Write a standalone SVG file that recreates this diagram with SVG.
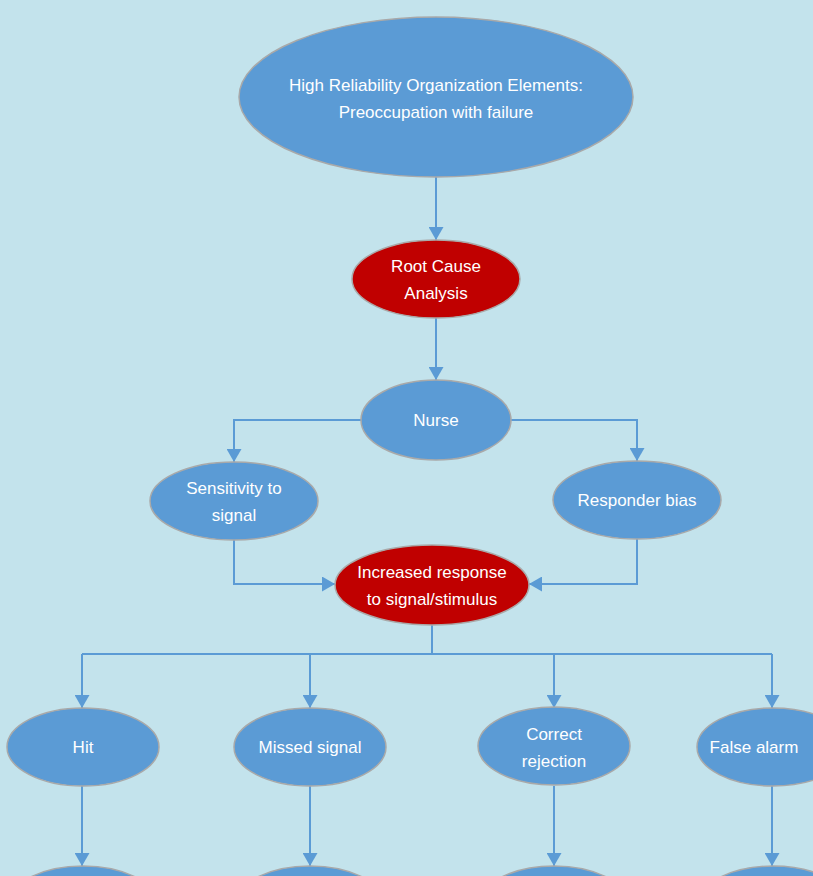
<svg xmlns="http://www.w3.org/2000/svg" width="813" height="876" viewBox="0 0 813 876">
<defs>
<marker id="ah" viewBox="0 0 13 15" refX="13" refY="7.5" markerWidth="13" markerHeight="15" markerUnits="userSpaceOnUse" orient="auto">
<path d="M0,0 L13,7.5 L0,15 Z" fill="#5B9BD5"/>
</marker>
<style>
.n{fill:#5B9BD5;stroke:#A9A9A9;stroke-width:1.5}
.r{fill:#C00000;stroke:#A9A9A9;stroke-width:1.5}
.t{font-family:"Liberation Sans",Arial,sans-serif;font-size:17px;fill:#FFFFFF;text-anchor:middle}
.c{fill:none;stroke:#5B9BD5;stroke-width:2;marker-end:url(#ah)}
</style>
</defs>
<rect width="813" height="876" fill="#C3E3EC"/>
<g id="connectors">
<path class="c" d="M436,177 V240"/>
<path class="c" d="M436,318 V380"/>
<path class="c" d="M361,420 H234 V462"/>
<path class="c" d="M511,420 H637 V461"/>
<path class="c" d="M234,540 V584 H335"/>
<path class="c" d="M637,539 V584 H529"/>
<path d="M432,625 V654 M82,654 H772" fill="none" stroke="#5B9BD5" stroke-width="2"/>
<path class="c" d="M82,654 V708"/>
<path class="c" d="M310,654 V708"/>
<path class="c" d="M554,654 V708"/>
<path class="c" d="M772,654 V708"/>
<path class="c" d="M82,786 V866"/>
<path class="c" d="M310,786 V866"/>
<path class="c" d="M554,786 V866"/>
<path class="c" d="M772,786 V866"/>
</g>
<g id="hro">
<ellipse class="n" cx="436" cy="97" rx="197" ry="80"/>
<text class="t" x="436" y="91">High Reliability Organization Elements:</text>
<text class="t" x="436" y="118">Preoccupation with failure</text>
</g>
<g id="rca">
<ellipse class="r" cx="436" cy="279" rx="84" ry="39"/>
<text class="t" x="436" y="272">Root Cause</text>
<text class="t" x="436" y="299">Analysis</text>
</g>
<g id="nurse">
<ellipse class="n" cx="436" cy="420" rx="75" ry="40"/>
<text class="t" x="436" y="426">Nurse</text>
</g>
<g id="sensitivity">
<ellipse class="n" cx="234" cy="501" rx="84" ry="39"/>
<text class="t" x="234" y="494">Sensitivity to</text>
<text class="t" x="234" y="521">signal</text>
</g>
<g id="bias">
<ellipse class="n" cx="637" cy="500" rx="84" ry="39"/>
<text class="t" x="637" y="506">Responder bias</text>
</g>
<g id="increased">
<ellipse class="r" cx="432" cy="585" rx="97" ry="40"/>
<text class="t" x="432" y="578">Increased response</text>
<text class="t" x="432" y="605">to signal/stimulus</text>
</g>
<g id="hit">
<ellipse class="n" cx="83" cy="747" rx="76" ry="39"/>
<text class="t" x="83" y="753">Hit</text>
</g>
<g id="missed">
<ellipse class="n" cx="310" cy="747" rx="76" ry="39"/>
<text class="t" x="310" y="753">Missed signal</text>
</g>
<g id="correct">
<ellipse class="n" cx="554" cy="746" rx="76" ry="39"/>
<text class="t" x="554" y="740">Correct</text>
<text class="t" x="554" y="767">rejection</text>
</g>
<g id="falsealarm">
<ellipse class="n" cx="773" cy="747" rx="76" ry="39"/>
<text class="t" x="754" y="753">False alarm</text>
</g>
<g id="b1"><ellipse class="n" cx="83" cy="906" rx="76" ry="40"/></g>
<g id="b2"><ellipse class="n" cx="310" cy="906" rx="76" ry="40"/></g>
<g id="b3"><ellipse class="n" cx="554" cy="906" rx="76" ry="40"/></g>
<g id="b4"><ellipse class="n" cx="773" cy="906" rx="76" ry="40"/></g>
</svg>
